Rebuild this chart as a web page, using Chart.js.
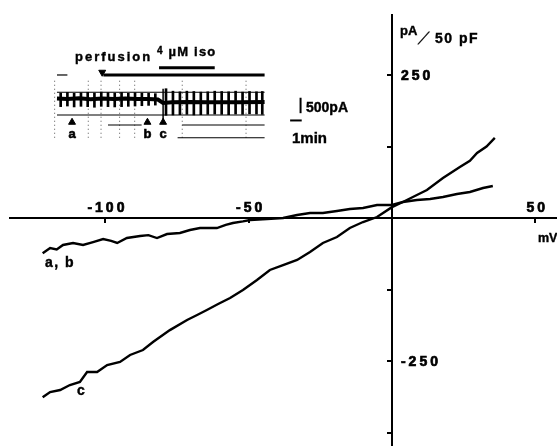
<!DOCTYPE html>
<html>
<head>
<meta charset="utf-8">
<script src="https://cdn.jsdelivr.net/npm/chart.js@4.4.1/dist/chart.umd.min.js"></script>
<style>
  html, body { margin: 0; padding: 0; background: #fff; }
  #wrap { position: relative; width: 557px; height: 446px; overflow: hidden;
          font-family: "Liberation Sans", Arial, sans-serif; font-weight: bold; color: #000; }
  #main { position: absolute; left: 0; top: 0; }
  #inset { position: absolute; left: 45px; top: 40px; }
  .lbl { position: absolute; white-space: nowrap; line-height: 1; -webkit-text-stroke: 0.4px #000; }
</style>
</head>
<body>
<div id="wrap">
  <canvas id="main" width="557" height="446"></canvas>
  <canvas id="inset" width="300" height="110"></canvas>

  <!-- axis titles -->
  <div class="lbl" style="left:400px; top:24px; font-size:13px;">pA</div>
  <div class="lbl" style="left:421px; top:30px; font-size:17px; font-weight:normal; -webkit-text-stroke:0.3px #000; transform:skewX(-32deg); transform-origin:center;">/</div>
  <div class="lbl" style="left:435px; top:31px; font-size:14px; letter-spacing:1.5px;">50 pF</div>
  <div class="lbl" style="left:538px; top:232px; font-size:12.5px;">mV</div>

  <!-- curve labels -->
  <div class="lbl" style="left:45px; top:255px; font-size:14px; letter-spacing:1.5px;">a, b</div>
  <div class="lbl" style="left:77px; top:383px; font-size:14px;">c</div>

  <!-- inset labels -->
  <div class="lbl" style="left:75px; top:50px; font-size:13px; letter-spacing:2px;">perfusion</div>
  <div class="lbl" style="left:157px; top:45px; font-size:13px; letter-spacing:1.2px;"><span style="font-size:10px; position:relative; top:-2px;">4</span> µM iso</div>
  <div class="lbl" style="left:306px; top:100px; font-size:14px;">500pA</div>
  <div class="lbl" style="left:292px; top:130px; font-size:15px;">1min</div>
</div>

<script>
// I-V curves: membrane potential (mV) vs current density (pA/50 pF)
const abVoltage = [-121.9, -119.3, -117.0, -114.8, -111.3, -107.8, -104.3, -100.8, -98.0, -95.9,
  -92.5, -87.9, -85.0, -82.0, -78.5, -74.0, -70.5, -67.0, -63.5, -61.1, -58.0, -55.5, -52.0,
  -49.5, -43.6, -38.0, -33.1, -28.6, -24.1, -19.2, -14.7, -10.1, -5.2, 0, 3.8, 8.7, 13.3,
  17.8, 22.7, 27.2, 31.8, 35.2];
const abCurrent = [-61.7, -52.4, -55.0, -47.2, -43.7, -47.2, -42.0, -36.7, -40.0, -43.7,
  -35.0, -31.5, -30.0, -35.0, -28.0, -26.2, -21.0, -17.5, -17.5, -17.5, -12.0, -8.7, -6.0,
  -3.5, -1.7, 0, 5.2, 8.7, 8.7, 12.2, 15.7, 17.5, 22.7, 22.7, 28.0, 31.5, 33.2,
  36.7, 42.0, 45.5, 52.4, 55.9];

const cVoltage = [-121.9, -119.3, -115.8, -112.4, -108.9, -106.4, -102.9, -99.4, -94.9, -91.4,
  -86.9, -83.4, -77.5, -71.5, -68.0, -64.6, -60.5, -56.5, -52.0, -47.1, -42.6, -38.0, -33.1,
  -28.6, -24.1, -19.2, -14.7, -10.1, -5.2, 0, 3.8, 8.7, 12.2, 17.8, 23.7, 27.2, 29.7, 33.0, 35.9];
const cCurrent = [-313.5, -304.2, -300.7, -292.0, -286.7, -269.2, -269.2, -257.0, -251.7, -239.5,
  -230.8, -216.8, -196.0, -178.3, -169.6, -160.8, -150.0, -139.9, -125.9, -108.4, -90.9, -82.2, -73.4,
  -59.4, -43.7, -33.2, -17.5, -7.0, 1.7, 19.0, 28.0, 40.2, 49.0, 70.0, 89.0, 100.0, 113.6, 125.0, 140.0];

const xTickValues = [-100, -50, 0, 50];
const yTickValues = [-375, -250, -125, 0, 125, 250];
const xTickLabels = [-100, -50, 50];
const yTickLabels = [250, -250];

// Inset: current trace during perfusion (time in min, current in pA)
const rampTimes = [0.92, 1.5, 2.08, 2.67, 3.25, 3.83, 4.42, 5.0, 5.58, 6.17, 6.75, 7.33, 7.92, 8.5, 9.08,
  10.0, 10.6, 11.2, 11.8, 12.4, 13.0, 13.6, 14.2, 14.8, 15.4, 16.0, 16.6, 17.2, 17.8, 18.3];
const rampHigh = [240, 260, 230, 250, 265, 240, 270, 255, 240, 260, 230, 250, 240, 230, 220,
  380, 300, 280, 300, 290, 270, 280, 300, 290, 280, 300, 270, 290, 280, 290];
const rampLow = [-200, -180, -210, -190, -200, -220, -190, -200, -210, -200, -190, -180, -170, -160, -150,
  -480, -470, -460, -450, -470, -460, -450, -440, -450, -460, -440, -450, -430, -440, -450];
const holdTimes = [0.6, 1.5, 2.5, 3.5, 4.5, 5.5, 6.5, 7.5, 8.5, 9.3, 9.75, 10.5, 12, 13.5, 15, 16.5, 18.5];
const holdCurrent = [60, 50, 70, 40, 65, 50, 60, 45, 50, 30, -80, -60, -50, -60, -55, -60, -50];

const markerTimes = [1.9, 8.4, 9.75];
const markerLabels = ['a', 'b', 'c'];
const perfusionStart = 4.6, perfusionEnd = 18.5, perfusionArrow = 4.5;
const isoStart = 9.4, isoEnd = 14.2;
const scaleBarCurrent = 500, scaleBarTime = 1;

// chart-paper rules behind the trace
const ruleLevel = [265, -471, -794, -794, -1206, 824];
const ruleStart = [0.6, 0.6, 5.0, 11.4, 11.0, 0.6];
const ruleEnd = [18.5, 18.5, 7.9, 18.5, 18.5, 1.5];
const paperTimes = [0.4, 3.3, 4.4, 6.0, 7.3, 11.4, 16.9];

const FONT = '"Liberation Sans", Arial, sans-serif';

// tick labels sit above the x axis and right of the y axis
const tickLabelPlugin = {
  id: 'tickLabels',
  afterDraw(chart) {
    const { ctx, scales: { x, y } } = chart;
    const x0 = x.getPixelForValue(0);
    const y0 = y.getPixelForValue(0);
    ctx.save();
    ctx.fillStyle = '#000';
    ctx.strokeStyle = '#000';
    ctx.lineWidth = 0.7;
    ctx.font = 'bold 14px ' + FONT;
    ctx.letterSpacing = '3px';
    ctx.textAlign = 'center';
    ctx.textBaseline = 'alphabetic';
    xTickLabels.forEach(v => {
      const px = x.getPixelForValue(v) + 2;
      ctx.fillText(String(v), px, y0 - 6);
      ctx.strokeText(String(v), px, y0 - 6);
    });
    ctx.textAlign = 'left';
    ctx.textBaseline = 'middle';
    yTickLabels.forEach(v => {
      const py = y.getPixelForValue(v) + 1;
      ctx.fillText(String(v), x0 + 9, py);
      ctx.strokeText(String(v), x0 + 9, py);
    });
    ctx.restore();
  }
};

const toPoints = (xs, ys) => xs.map((v, i) => ({ x: v, y: ys[i] }));
const curve = (xs, ys) => ({
  data: toPoints(xs, ys),
  borderColor: '#000',
  borderWidth: 2.4,
  pointRadius: 0,
  tension: 0
});

new Chart(document.getElementById('main'), {
  type: 'line',
  data: { datasets: [curve(abVoltage, abCurrent), curve(cVoltage, cCurrent)] },
  options: {
    responsive: false,
    animation: false,
    devicePixelRatio: 1,
    layout: { padding: { left: 10, top: 15, right: 0, bottom: 0 } },
    plugins: { legend: { display: false }, tooltip: { enabled: false } },
    scales: {
      x: {
        type: 'linear', min: -133.3, max: 57.6, position: { y: 0 },
        afterFit: s => { s.height = 0; },
        afterBuildTicks: s => { s.ticks = xTickValues.map(v => ({ value: v })); },
        ticks: { display: false },
        grid: { drawOnChartArea: false, drawTicks: true, tickLength: 4, color: '#000', lineWidth: 2 },
        border: { display: true, color: '#000', width: 2 }
      },
      y: {
        type: 'linear', min: -398.6, max: 354.9, position: { x: 0 },
        afterFit: s => { s.width = 0; },
        afterBuildTicks: s => { s.ticks = yTickValues.map(v => ({ value: v })); },
        ticks: { display: false },
        grid: { drawOnChartArea: false, drawTicks: true, tickLength: 4, color: '#000', lineWidth: 2 },
        border: { display: true, color: '#000', width: 2 }
      }
    }
  },
  plugins: [tickLabelPlugin]
});

// ---- inset ----
const seg = (t1, v1, t2, v2, width, dash, color) => ({
  type: 'line',
  data: [{ x: t1, y: v1 }, { x: t2, y: v2 }],
  borderColor: color || '#000',
  borderWidth: width,
  borderDash: dash || [],
  pointRadius: 0
});

const insetSets = [];
insetSets.push({
  type: 'bar',
  data: rampTimes.map((t, i) => ({ x: t, y: [rampLow[i], rampHigh[i]] })),
  backgroundColor: '#000',
  barThickness: 2
});
insetSets.push({
  type: 'line',
  data: toPoints(holdTimes, holdCurrent),
  borderColor: '#000',
  borderWidth: 4,
  pointRadius: 0
});
ruleLevel.forEach((lv, i) => insetSets.push(seg(ruleStart[i], lv, ruleEnd[i], lv, 1.2)));
paperTimes.forEach(t => insetSets.push(seg(t, -1206, t, 700, 1, [1, 3], '#555')));
insetSets.push(seg(perfusionStart, 824, perfusionEnd, 824, 3));
insetSets.push(seg(isoStart, 1059, isoEnd, 1059, 3));
insetSets.push(seg(markerTimes[2], -765, markerTimes[2], 382, 1.5));
insetSets.push(seg(21.6, -412, 21.6, -412 + scaleBarCurrent, 2));
insetSets.push(seg(20.7, -647, 20.7 + scaleBarTime, -647, 2));
insetSets.push({
  type: 'scatter',
  data: markerTimes.map(t => ({ x: t, y: -706 })),
  pointStyle: 'triangle', pointRadius: 4,
  backgroundColor: '#000', borderColor: '#000'
});
insetSets.push({
  type: 'scatter',
  data: [{ x: perfusionArrow, y: 912 }],
  pointStyle: 'triangle', rotation: 180, pointRadius: 4,
  backgroundColor: '#000', borderColor: '#000'
});

const markerLabelPlugin = {
  id: 'markerLabels',
  afterDraw(chart) {
    const { ctx, scales: { x, y } } = chart;
    ctx.save();
    ctx.fillStyle = '#000';
    ctx.strokeStyle = '#000';
    ctx.lineWidth = 0.6;
    ctx.font = 'bold 13px ' + FONT;
    ctx.textAlign = 'center';
    ctx.textBaseline = 'alphabetic';
    markerLabels.forEach((m, i) => {
      const px = x.getPixelForValue(markerTimes[i]);
      const py = y.getPixelForValue(-1230);
      ctx.fillText(m, px, py);
      ctx.strokeText(m, px, py);
    });
    ctx.restore();
  }
};

new Chart(document.getElementById('inset'), {
  type: 'line',
  data: { datasets: insetSets },
  options: {
    responsive: false,
    animation: false,
    devicePixelRatio: 1,
    layout: { padding: 0 },
    plugins: { legend: { display: false }, tooltip: { enabled: false } },
    scales: {
      x: { type: 'linear', min: 0, max: 25, offset: false, display: false },
      y: { type: 'linear', min: -1441, max: 1794, display: false }
    }
  },
  plugins: [markerLabelPlugin]
});
</script>
</body>
</html>
